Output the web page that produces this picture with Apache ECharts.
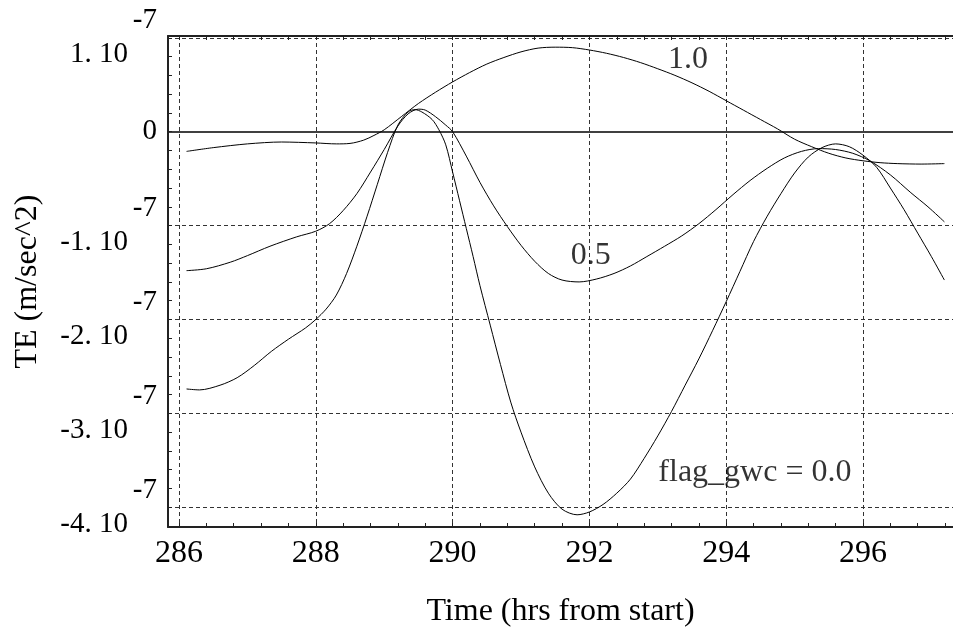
<!DOCTYPE html>
<html>
<head>
<meta charset="utf-8">
<script src="https://cdn.jsdelivr.net/npm/echarts@6/dist/echarts.min.js"></script>
<style>
html,body{margin:0;padding:0;background:#fff;}
#chart{width:953px;height:627px;}
</style>
</head>
<body>
<div id="chart"></div>
<script>
// Values are in units of 1e-7 m/sec^2
const curve10 = [
  [286.11,-0.21],[286.5,-0.17],[287.0,-0.13],[287.5,-0.11],[288.0,-0.12],[288.3,-0.13],
  [288.5,-0.125],[288.7,-0.09],[288.85,-0.04],[289.0,0.02],[289.25,0.16],[289.5,0.30],
  [289.75,0.42],[290.0,0.53],[290.25,0.63],[290.5,0.72],[290.75,0.79],[291.0,0.85],
  [291.25,0.89],[291.5,0.90],[291.75,0.895],[292.0,0.87],[292.25,0.835],[292.5,0.79],
  [292.75,0.735],[293.0,0.67],[293.25,0.60],[293.5,0.52],[293.75,0.43],[294.0,0.33],
  [294.25,0.23],[294.5,0.13],[294.75,0.03],[295.0,-0.08],[295.25,-0.16],[295.5,-0.23],
  [295.75,-0.28],[296.0,-0.31],[296.25,-0.33],[296.5,-0.34],[296.85,-0.345],[297.19,-0.34]
];
const curve05 = [
  [286.11,-1.48],[286.4,-1.46],[286.75,-1.39],[287.0,-1.32],[287.33,-1.22],[287.72,-1.12],
  [288.0,-1.06],[288.2,-0.98],[288.4,-0.84],[288.6,-0.66],[288.8,-0.43],[289.0,-0.19],
  [289.2,0.06],[289.35,0.19],[289.5,0.24],[289.6,0.23],[289.75,0.16],[289.9,0.07],
  [290.0,0.0],[290.2,-0.26],[290.4,-0.54],[290.6,-0.79],[290.8,-1.01],[291.0,-1.21],
  [291.2,-1.38],[291.4,-1.51],[291.6,-1.58],[291.85,-1.60],[292.1,-1.57],[292.36,-1.51],
  [292.6,-1.43],[292.84,-1.33],[293.1,-1.22],[293.35,-1.11],[293.6,-0.98],[293.85,-0.83],
  [294.1,-0.67],[294.35,-0.52],[294.6,-0.39],[294.85,-0.28],[295.1,-0.21],[295.35,-0.18],
  [295.6,-0.19],[295.85,-0.23],[296.1,-0.31],[296.4,-0.46],[296.7,-0.65],[296.95,-0.80],
  [297.19,-0.96]
];
const curve00 = [
  [286.11,-2.74],[286.3,-2.75],[286.6,-2.70],[286.85,-2.62],[287.1,-2.49],[287.35,-2.34],
  [287.6,-2.21],[287.85,-2.09],[288.0,-2.0],[288.15,-1.89],[288.3,-1.74],[288.45,-1.51],
  [288.6,-1.22],[288.75,-0.90],[288.9,-0.56],[289.05,-0.22],[289.2,0.07],[289.35,0.21],
  [289.45,0.235],[289.55,0.21],[289.7,0.13],[289.8,0.02],[289.9,-0.14],[290.0,-0.43],
  [290.1,-0.73],[290.2,-1.03],[290.3,-1.33],[290.4,-1.64],[290.55,-2.06],[290.7,-2.48],
  [290.85,-2.88],[291.0,-3.20],[291.2,-3.57],[291.4,-3.85],[291.6,-4.02],[291.82,-4.08],
  [292.0,-4.05],[292.2,-3.97],[292.4,-3.85],[292.6,-3.70],[292.8,-3.48],[293.0,-3.24],
  [293.2,-2.98],[293.4,-2.70],[293.6,-2.42],[293.8,-2.12],[294.0,-1.81],[294.2,-1.49],
  [294.4,-1.17],[294.6,-0.90],[294.8,-0.66],[295.0,-0.44],[295.2,-0.27],[295.4,-0.17],
  [295.6,-0.13],[295.8,-0.16],[296.0,-0.25],[296.2,-0.38],[296.4,-0.60],[296.6,-0.83],
  [296.8,-1.08],[297.0,-1.33],[297.19,-1.58]
];
const curveLabels = [
  [293.44,0.77,'1.0'],
  [292.02,-1.32,'0.5'],
  [294.42,-3.63,'flag_gwc = 0.0']
];
const xMajor = [286,288,290,292,294,296];
const xMinor = [286,286.4,286.8,287.2,287.6,288,288.4,288.8,289.2,289.6,290,290.4,290.8,291.2,
  291.6,292,292.4,292.8,293.2,293.6,294,294.4,294.8,295.2,295.6,296,296.4,296.8,297.2];
const yMajor = [-4,-3,-2,-1,0,1];
const yGrid = [-4,-3,-2,-1,1];
const yMinor = [-4.2,-4,-3.8,-3.6,-3.4,-3.2,-3,-2.8,-2.6,-2.4,-2.2,-2,-1.8,-1.6,-1.4,-1.2,-1,
  -0.8,-0.6,-0.4,-0.2,0,0.2,0.4,0.6,0.8,1];
const xRange = [285.839, 297.316];
const yRange = [-4.21, 1.019];
const expLabel = '-7';

const FONT = '"Liberation Serif","Times New Roman",serif';
const frame = {color:'#222', width:2};
const dash = {type:[4,3], color:'#333', width:1};

const chart = echarts.init(document.getElementById('chart'));
function yFmt(v){
  if (Math.abs(v) < 1e-9) return '{b|0}';
  const s = (v < 0 ? '-' : '') + Math.round(Math.abs(v)) + '. 10';
  return '{s|' + expLabel + '}\n{b|' + s + '}{p|}';
}
const lineSeries = (name, data) => ({
  name, type:'line', data, xAxisIndex:0, yAxisIndex:0, smooth:0.3, symbol:'none',
  lineStyle:{color:'#000', width:1}, z:5
});
chart.setOption({
  animation:false,
  backgroundColor:'#fff',
  grid:{left:168, top:36, right:0, bottom:100, containLabel:false, outerBoundsMode:'none'},
  xAxis:[
    {type:'value', position:'bottom', min:xRange[0], max:xRange[1],
     axisLine:{show:true, onZero:false, lineStyle:frame},
     axisTick:{show:true, inside:true, length:4, customValues:xMinor, lineStyle:{color:'#222', width:1}},
     axisLabel:{customValues:xMajor, fontSize:32, fontFamily:FONT, color:'#000', margin:11},
     splitLine:{show:false},
     name:'Time (hrs from start)', nameLocation:'middle', nameGap:69,
     nameTextStyle:{fontSize:32, fontFamily:FONT, color:'#000'}},
    {type:'value', position:'top', min:xRange[0], max:xRange[1],
     axisLine:{show:true, onZero:false, lineStyle:frame},
     axisTick:{show:true, inside:true, length:4, customValues:xMinor, lineStyle:{color:'#222', width:1}},
     axisLabel:{show:false}, splitLine:{show:false}},
    {type:'value', position:'bottom', min:xRange[0], max:xRange[1],
     axisLine:{show:false, onZero:false}, axisTick:{show:false, customValues:xMajor},
     axisLabel:{show:false}, splitLine:{show:true, lineStyle:dash}}
  ],
  yAxis:[
    {type:'value', position:'left', min:yRange[0], max:yRange[1],
     axisLine:{show:true, onZero:false, lineStyle:frame},
     axisTick:{show:true, inside:true, length:4, customValues:yMinor, lineStyle:{color:'#222', width:1}},
     axisLabel:{customValues:yMajor, formatter:yFmt, margin:11, align:'right', color:'#000',
       fontFamily:FONT, fontSize:29,
       rich:{
         s:{fontSize:29, lineHeight:34, fontFamily:FONT, color:'#000', align:'right'},
         b:{fontSize:29, lineHeight:34, fontFamily:FONT, color:'#000', align:'right'},
         p:{width:29, align:'right'}
       }},
     splitLine:{show:false},
     name:'TE (m/sec^2)', nameLocation:'middle', nameGap:124, nameRotate:90,
     nameTextStyle:{fontSize:32, fontFamily:FONT, color:'#000'}},
    {type:'value', position:'left', min:yRange[0], max:yRange[1],
     axisLine:{show:false, onZero:false}, axisTick:{show:false, customValues:yGrid},
     axisLabel:{show:false}, splitLine:{show:true, lineStyle:dash}},
    {type:'value', position:'left', min:yRange[0], max:yRange[1],
     axisLine:{show:false, onZero:false}, axisTick:{show:false, customValues:[0]},
     axisLabel:{show:false}, splitLine:{show:true, lineStyle:{type:'solid', color:'#000', width:1.5}}}
  ],
  series:[
    lineSeries('1.0', curve10),
    lineSeries('0.5', curve05),
    lineSeries('0.0', curve00),
    {type:'scatter', data:curveLabels, xAxisIndex:0, yAxisIndex:0, symbolSize:0.1,
     itemStyle:{color:'rgba(0,0,0,0)'}, z:6,
     label:{show:true, position:'inside', formatter:p => p.data[2],
       fontSize:32, fontFamily:FONT, color:'#000'}}
  ]
});
</script>
</body>
</html>
